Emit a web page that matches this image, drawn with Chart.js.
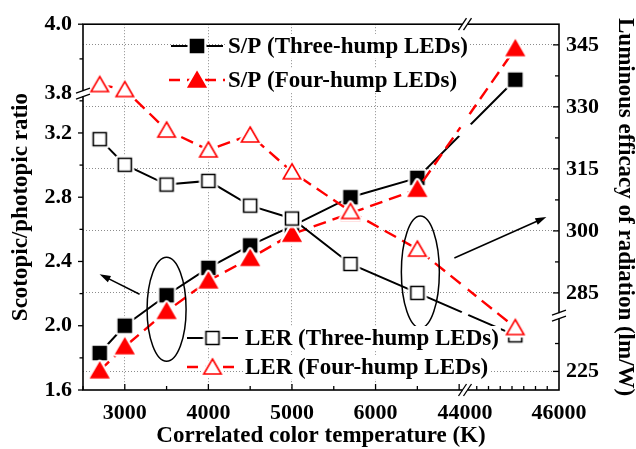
<!DOCTYPE html>
<html>
<head>
<meta charset="utf-8">
<title>S/P ratio and LER vs CCT</title>
<script src="https://cdn.jsdelivr.net/npm/chart.js@4.4.1/dist/chart.umd.min.js"></script>
<style>
  html, body { margin: 0; padding: 0; background: #fff; }
  canvas { display: block; }
</style>
</head>
<body>
<canvas id="cctChart" width="636" height="449"></canvas>
<script>
// CCT of the LEDs (K)
const cct = [2700, 3000, 3500, 4000, 4500, 5000, 5700, 6500, 45070];

// scotopic/photopic ratio
const spThree = [1.83, 2.0, 2.19, 2.36, 2.5, 2.62, 2.8, 2.92, 3.84];
const spFour = [1.72, 1.87, 2.09, 2.28, 2.42, 2.57, 2.7, 2.85, 3.93];

// luminous efficacy of radiation (lm/W)
const lerThree = [322.2, 316.0, 311.2, 312.1, 306.1, 303.0, 292.0, 285.0, 234.7];
const lerFour = [335.4, 334.2, 324.4, 319.6, 323.2, 314.3, 304.7, 295.6, 236.8];

// tick labels
const cctTicks = [3000, 4000, 5000, 6000, 44000, 46000];
const spTicks = [1.6, 2.0, 2.4, 2.8, 3.2, 3.8, 4.0];
const lerTicks = [225, 285, 300, 315, 330, 345];

// broken axes: [from, to, length on screen]
const cctPieces = [[2500, 7070, 382], [44000, 46000, 94]];
const spPieces = [[1.6, 3.445, 299], [3.8, 4.0, 70]];
const lerPieces = [[220, 240, 75], [279.5, 350, 294]];

const serif = "'Liberation Serif', 'Times New Roman', serif";
const RED = "#f00";

// value -> position along a broken axis
function toAxis(pieces, v) {
  let start = 0;
  for (let i = 0; i < pieces.length; i++) {
    const [lo, hi, len] = pieces[i];
    if (v <= hi || i === pieces.length - 1) {
      return start + ((v - lo) / (hi - lo)) * len;
    }
    start += len;
  }
}

function axisLength(pieces) {
  return pieces.reduce((s, p) => s + p[2], 0);
}

// where one piece ends and the next begins
function breakAt(pieces) {
  return pieces[0][2];
}

// marker sprites, with a white rim so the line stops short of them
function makeMarker(shape, fill, stroke) {
  const c = document.createElement("canvas");
  c.width = 28;
  c.height = 28;
  const g = c.getContext("2d");
  g.translate(14, 14);
  const path = () => {
    g.beginPath();
    if (shape === "square") {
      g.rect(-6.5, -6.5, 13, 13);
    } else {
      g.moveTo(0, -8);
      g.lineTo(8.7, 7);
      g.lineTo(-8.7, 7);
      g.closePath();
    }
  };
  path();
  g.lineJoin = "round";
  g.lineWidth = 6;
  g.strokeStyle = "#fff";
  g.stroke();
  g.fillStyle = "#fff";
  g.fill();
  path();
  g.lineJoin = "miter";
  g.fillStyle = fill;
  g.fill();
  g.lineWidth = 1.6;
  g.strokeStyle = stroke;
  g.stroke();
  return c;
}

const markers = {
  squareFilled: makeMarker("square", "#000", "#000"),
  squareOpen: makeMarker("square", "#fff", "#000"),
  triFilled: makeMarker("tri", RED, RED),
  triOpen: makeMarker("tri", "#fff", RED),
};

function points(values, pieces) {
  return cct.map((c, i) => ({
    x: toAxis(cctPieces, c),
    y: toAxis(pieces, values[i]),
  }));
}

function series(label, values, pieces, axis, color, dashed, marker) {
  return {
    label,
    data: points(values, pieces),
    yAxisID: axis,
    borderColor: color,
    borderWidth: dashed ? 2.4 : 2,
    borderDash: dashed ? [13, 7] : [],
    pointStyle: marker,
    pointRadius: 6,
    tension: 0,
    fill: false,
  };
}

// frame, tick marks, axis breaks, callouts and the two legends
const decorations = {
  id: "decorations",
  afterDraw(chart) {
    const { ctx, chartArea: a, scales } = chart;
    const X = (v) => scales.x.getPixelForValue(toAxis(cctPieces, v));
    const YL = (v) => scales.yL.getPixelForValue(toAxis(spPieces, v));
    const YR = (v) => scales.yR.getPixelForValue(toAxis(lerPieces, v));
    const bx = scales.x.getPixelForValue(breakAt(cctPieces));
    const byL = scales.yL.getPixelForValue(breakAt(spPieces));
    const byR = scales.yR.getPixelForValue(breakAt(lerPieces));

    ctx.save();

    // lines are cut where they cross the CCT break
    chart.data.datasets.forEach((ds, i) => {
      const pts = chart.getDatasetMeta(i).data;
      for (let k = 0; k < pts.length - 1; k++) {
        const p = pts[k], q = pts[k + 1];
        if (p.x < bx && q.x > bx) {
          const y = p.y + ((bx - p.x) / (q.x - p.x)) * (q.y - p.y);
          ctx.save();
          ctx.translate(bx, y);
          ctx.rotate(0.55);
          ctx.fillStyle = "#fff";
          ctx.fillRect(-3.5, -8, 7, 16);
          ctx.restore();
        }
      }
    });

    // frame
    ctx.strokeStyle = "#000";
    ctx.lineWidth = 1.6;
    ctx.strokeRect(a.left, a.top, a.right - a.left, a.bottom - a.top);

    ctx.lineWidth = 1.3;
    const tick = (x1, y1, x2, y2) => {
      ctx.beginPath();
      ctx.moveTo(x1, y1);
      ctx.lineTo(x2, y2);
      ctx.stroke();
    };

    // bottom ticks point inward
    for (let v = 2500; v <= 7000; v += 500) {
      const major = v % 1000 === 0;
      tick(X(v), a.bottom, X(v), a.bottom - (major ? 6 : 4));
    }
    for (let v = 44250; v < 46000; v += 250) {
      tick(X(v), a.bottom, X(v), a.bottom - 4);
    }

    // left ticks point outward
    for (let v = 1.6; v < 3.45; v += 0.2) {
      const major = spTicks.some((t) => Math.abs(t - v) < 1e-6);
      tick(a.left, YL(v), a.left - (major ? 5 : 3.5), YL(v));
    }
    tick(a.left, YL(3.9), a.left - 3.5, YL(3.9));
    tick(a.left, YL(4.0), a.left - 5, YL(4.0));

    // right ticks point inward
    for (let v = 285; v <= 345; v += 7.5) {
      const major = v % 15 === 0;
      tick(a.right, YR(v), a.right - (major ? 6 : 4), YR(v));
    }
    tick(a.right, YR(225), a.right - 6, YR(225));
    tick(a.right, YR(232.5), a.right - 4, YR(232.5));

    // axis break marks
    const hBreak = (x, y) => {
      ctx.fillStyle = "#fff";
      ctx.fillRect(x - 2.5, y - 2, 5, 4);
      tick(x - 6.5, y + 6, x + 1.5, y - 6);
      tick(x - 1.5, y + 6, x + 6.5, y - 6);
    };
    const vBreak = (x, y) => {
      ctx.fillStyle = "#fff";
      ctx.fillRect(x - 2, y - 2.5, 4, 5);
      tick(x - 7, y - 0.5, x + 7, y - 5.5);
      tick(x - 7, y + 5.5, x + 7, y + 0.5);
    };
    hBreak(bx, a.bottom);
    hBreak(bx, a.top);
    vBreak(a.left, byL);
    vBreak(a.right, byR);

    // callout ellipses and arrows
    const arrow = (x1, y1, x2, y2) => {
      const ang = Math.atan2(y2 - y1, x2 - x1);
      tick(x1, y1, x2 - 6 * Math.cos(ang), y2 - 6 * Math.sin(ang));
      ctx.save();
      ctx.translate(x2, y2);
      ctx.rotate(ang);
      ctx.beginPath();
      ctx.moveTo(0, 0);
      ctx.lineTo(-11, -3.5);
      ctx.lineTo(-11, 3.5);
      ctx.closePath();
      ctx.fillStyle = "#000";
      ctx.fill();
      ctx.restore();
    };
    ctx.lineWidth = 1.5;
    const i35 = cct.indexOf(3500);
    const c1x = X(3500);
    const c1y = (YL(spThree[i35]) + YL(spFour[i35])) / 2 + 6;
    ctx.beginPath();
    ctx.ellipse(c1x, c1y, 19.5, 52, 0, 0, Math.PI * 2);
    ctx.stroke();
    arrow(c1x - 27, c1y - 15, c1x - 67, c1y - 35);

    const i65 = cct.indexOf(6500);
    const c2x = X(6500) + 3;
    const c2y = (YR(lerThree[i65]) + YR(lerFour[i65])) / 2 + 1;
    ctx.beginPath();
    ctx.ellipse(c2x, c2y, 19, 56, 0, 0, Math.PI * 2);
    ctx.stroke();
    arrow(c2x + 34, c2y - 14, c2x + 126, c2y - 55);

    // legends
    ctx.font = "bold 23px " + serif;
    ctx.textBaseline = "middle";
    const entry = (x1, x2, y, color, dashed, marker, text, tx) => {
      ctx.strokeStyle = color;
      ctx.lineWidth = dashed ? 2.4 : 2;
      ctx.setLineDash(dashed ? [11, 7] : []);
      tick(x1, y, x2, y);
      ctx.setLineDash([]);
      ctx.drawImage(marker, (x1 + x2) / 2 - 14, y - 14);
      const w = ctx.measureText(text).width;
      ctx.fillStyle = "#fff";
      ctx.fillRect(tx - 2, y - 12, w + 4, 24);
      ctx.fillStyle = "#000";
      ctx.fillText(text, tx, y + 1);
    };
    entry(171, 223, 46, "#000", false, markers.squareFilled, "S/P (Three-hump LEDs)", 228);
    entry(169, 225, 80, RED, true, markers.triFilled, "S/P (Four-hump LEDs)", 228);
    entry(187, 238, 338, "#000", false, markers.squareOpen, "LER (Three-hump LEDs)", 245);
    entry(187, 238, 367, RED, true, markers.triOpen, "LER (Four-hump LEDs)", 245);

    ctx.restore();
  },
};

const labelFont = { family: serif, weight: "bold", size: 22 };
const titleFont = { family: serif, weight: "bold", size: 23, lineHeight: 1 };
const gridGrey = "#8c8c8c";

function createChart() {
  const ctx = document.getElementById("cctChart").getContext("2d");

  new Chart(ctx, {
    type: "line",
    data: {
      // LER drawn on top of S/P
      datasets: [
        series("LER (Four-hump LEDs)", lerFour, lerPieces, "yR", RED, true, markers.triOpen),
        series("LER (Three-hump LEDs)", lerThree, lerPieces, "yR", "#000", false, markers.squareOpen),
        series("S/P (Four-hump LEDs)", spFour, spPieces, "yL", RED, true, markers.triFilled),
        series("S/P (Three-hump LEDs)", spThree, spPieces, "yL", "#000", false, markers.squareFilled),
      ],
    },
    options: {
      responsive: false,
      animation: false,
      devicePixelRatio: 1,
      layout: { padding: { top: 21, left: 0, right: 0, bottom: 0 } },
      plugins: {
        legend: { display: false },
        tooltip: { enabled: false },
      },
      scales: {
        x: {
          type: "linear",
          min: 0,
          max: axisLength(cctPieces),
          afterBuildTicks: (s) => {
            s.ticks = cctTicks.map((v) => ({ value: toAxis(cctPieces, v) }));
          },
          afterFit: (s) => {
            s.height = 59;
          },
          ticks: {
            font: labelFont,
            color: "#000",
            padding: 10,
            maxRotation: 0,
            autoSkip: false,
            callback: (val, i) => String(cctTicks[i]),
          },
          grid: {
            drawTicks: false,
            lineWidth: 1,
            color: (c) => (c.index < 4 ? gridGrey : "rgba(0,0,0,0)"),
          },
          border: { display: false, dash: [1, 2] },
          title: {
            display: true,
            text: "Correlated color temperature (K)",
            font: titleFont,
            color: "#000",
            padding: { top: 0, bottom: 1.5 },
          },
        },
        yL: {
          type: "linear",
          position: "left",
          min: 0,
          max: axisLength(spPieces),
          afterBuildTicks: (s) => {
            s.ticks = spTicks.map((v) => ({ value: toAxis(spPieces, v) }));
          },
          afterFit: (s) => {
            s.width = 83;
          },
          ticks: {
            font: labelFont,
            color: "#000",
            padding: 11,
            autoSkip: false,
            callback: (val, i) => spTicks[i].toFixed(1),
          },
          grid: { display: false, drawTicks: false },
          border: { display: false },
          title: {
            display: true,
            text: "Scotopic/photopic ratio",
            font: titleFont,
            color: "#000",
            padding: { top: 10, bottom: 0 },
          },
        },
        yR: {
          type: "linear",
          position: "right",
          min: 0,
          max: axisLength(lerPieces),
          afterBuildTicks: (s) => {
            s.ticks = lerTicks.map((v) => ({ value: toAxis(lerPieces, v) }));
          },
          afterFit: (s) => {
            s.width = 77;
          },
          ticks: {
            font: labelFont,
            color: "#000",
            padding: 7,
            autoSkip: false,
            callback: (val, i) => String(lerTicks[i]),
          },
          grid: { drawTicks: false, lineWidth: 1, color: gridGrey },
          border: { display: false, dash: [1, 2] },
          title: {
            display: true,
            text: "Luminous efficacy of radiation (lm/W)",
            font: titleFont,
            color: "#000",
            padding: { top: 0, bottom: 0 },
          },
        },
      },
    },
    plugins: [decorations],
  });
}

createChart();
</script>
</body>
</html>
